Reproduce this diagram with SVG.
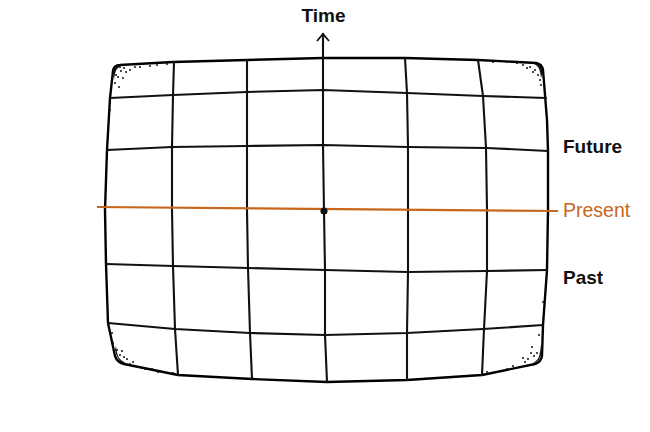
<svg xmlns="http://www.w3.org/2000/svg" width="650" height="432" viewBox="0 0 650 432">
<defs>
<style>
.grid{fill:none;stroke:#111;stroke-width:2.1;stroke-linejoin:round;stroke-linecap:round}
.edge{fill:none;stroke:#000;stroke-width:2.4;stroke-linejoin:round}
.dot{fill:#111}
.lbl{font-family:"Liberation Sans",Arial,sans-serif;font-weight:bold;font-size:19px;fill:#111}
.present{fill:#c8661c;font-weight:normal}
</style>
<marker id="arr" viewBox="0 0 10 14" refX="8" refY="7" markerWidth="10" markerHeight="14" markerUnits="userSpaceOnUse" orient="auto">
<path d="M1,1 L8,7 L1,13" fill="none" stroke="#111" stroke-width="1.8"/>
</marker>
</defs>
<rect width="650" height="432" fill="#fff"/>
<g id="grid">
<path class="edge" d="M113,71 Q114,65 120,65 L173,62 L247,60 L323,58 L405,58 L478,60 L536,63 Q542,64 543,70 L547,120 L548,151 L548,210 L547,270 L543,325 L542,356 Q541,362 535,364 L482,375 L407,380 L327,382 L252,379 L178,375 L124,364 Q117,362 115,356 L108,323 L106,264 L105,210 L107,150 L110,98 Z"/>
<polyline class="grid" points="110,98 173,95 247,92 323,90 407,93 483,96 546,98"/>
<polyline class="grid" points="107,150 172,147 247,146 323,145 408,147 487,148 548,151"/>
<polyline class="grid" points="106,264 173,266 248,268 325,270 408,272 487,271 547,270"/>
<polyline class="grid" points="108,323 175,329 250,333 325,335 407,333 483,329 543,325"/>
<polyline class="grid" points="174,62 173,95 172,147 172,210 173,266 175,329 178,375"/>
<polyline class="grid" points="247,60 247,92 247,146 247,210 248,268 250,333 252,379"/>
<polyline class="grid" points="405,58 407,93 408,147 408,210 408,272 407,333 407,380"/>
<polyline class="grid" points="478,60 483,96 486,148 487,210 487,271 484,329 482,375"/>
</g>
<g id="stipple" class="dot">
<path d="M113,72 Q114,65 122,65 L118,68 Q115,70 114,80 Z"/>
<path d="M543,72 Q542,64 533,63 L537,66 Q540,68 541,78 Z"/>
<path d="M115,350 Q117,362 127,364 L121,360 Q117,357 116,346 Z"/>
<path d="M542,350 Q541,362 532,364 L537,360 Q540,357 541,344 Z"/>
<circle cx="120" cy="67" r="1"/><circle cx="124" cy="68" r="1"/><circle cx="130" cy="70" r="1"/><circle cx="140" cy="67" r="1"/><circle cx="150" cy="66" r="1"/><circle cx="157" cy="65" r="1"/><circle cx="167" cy="64" r="1"/><circle cx="118" cy="77" r="1"/><circle cx="123" cy="78" r="1"/><circle cx="115" cy="83" r="1"/><circle cx="119" cy="87" r="1"/><circle cx="126" cy="72" r="1"/><circle cx="116" cy="75" r="1"/><circle cx="110" cy="110" r="0.9"/><circle cx="121" cy="71" r="1"/><circle cx="135" cy="67" r="1"/>
<circle cx="493" cy="62" r="1"/><circle cx="507" cy="62" r="1"/><circle cx="517" cy="63" r="1"/><circle cx="523" cy="65" r="1"/><circle cx="530" cy="67" r="1"/><circle cx="535" cy="70" r="1"/><circle cx="538" cy="75" r="1"/><circle cx="540" cy="80" r="1"/><circle cx="541" cy="85" r="1"/><circle cx="533" cy="72" r="1"/><circle cx="527" cy="68" r="1"/>
<circle cx="112" cy="333" r="1"/><circle cx="113" cy="343" r="1"/><circle cx="117" cy="350" r="1"/><circle cx="122" cy="351" r="1"/><circle cx="120" cy="355" r="1"/><circle cx="127" cy="359" r="1"/><circle cx="133" cy="362" r="1"/><circle cx="138" cy="367" r="1"/><circle cx="145" cy="369" r="1"/><circle cx="152" cy="369" r="1"/><circle cx="158" cy="372" r="1"/><circle cx="173" cy="373" r="1"/><circle cx="124" cy="357" r="1"/><circle cx="130" cy="364" r="1"/>
<circle cx="543" cy="302" r="1"/><circle cx="539" cy="335" r="1"/><circle cx="532" cy="347" r="1"/><circle cx="523" cy="358" r="1"/><circle cx="528" cy="359" r="1"/><circle cx="513" cy="366" r="1"/><circle cx="507" cy="369" r="1"/><circle cx="497" cy="372" r="1"/><circle cx="487" cy="372" r="1"/><circle cx="537" cy="353" r="1"/><circle cx="534" cy="356" r="1"/><circle cx="531" cy="353" r="1"/><circle cx="525" cy="362" r="1"/>
</g>
<g id="connectors">
<polyline id="time-axis" class="grid" points="327,382 325,335 325,270 324,211 323,145 323,90 323,58 323,34" marker-end="url(#arr)"/>
<line id="present-line" x1="97" y1="207" x2="558" y2="211" stroke="#c8661c" stroke-width="2.2"/>
</g>
<g id="origin"><circle cx="324" cy="211" r="3.6" fill="#111"/></g>
<g id="label-time"><text class="lbl" x="323.5" y="22" text-anchor="middle">Time</text></g>
<g id="label-future"><text class="lbl" x="563" y="153">Future</text></g>
<g id="label-present"><text class="lbl present" x="563" y="217" style="font-size:19.5px">Present</text></g>
<g id="label-past"><text class="lbl" x="563" y="284">Past</text></g>
</svg>
